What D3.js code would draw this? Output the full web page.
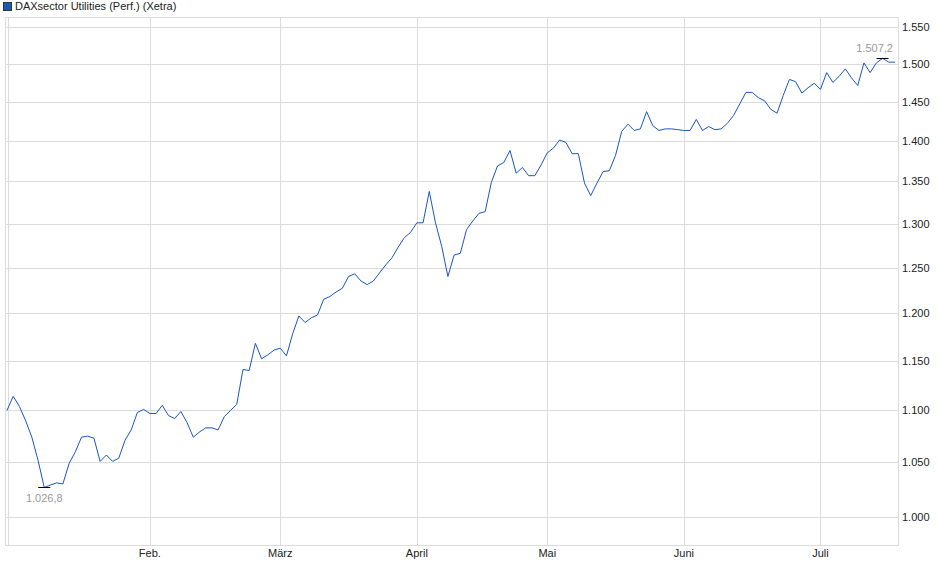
<!DOCTYPE html>
<html><head><meta charset="utf-8">
<script src="https://cdn.jsdelivr.net/npm/d3@7"></script>
<style>body{margin:0;background:#fff}svg{display:block;font-family:"Liberation Sans",Arial,sans-serif}</style>
</head><body><svg id="c" width="940" height="579"></svg>
<script>
const title = "DAXsector Utilities (Perf.) (Xetra)";
const values = [1100,1114,1104,1090,1074,1052,1026.8,1029,1031,1030,1049,1060,1074,1075,1073,1051,1057,1051,1054,
1071,1081,1098,1101,1097,1097,1105,1095,1092,1099,1088,1074,1079,1083,1083,1081,1094,1100,1106,
1141,1140,1168,1152,1156,1161,1163,1155,1178,1197,1190,1195,1198,1215,1218,1223,1227,1240,1243,
1235,1231,1235,1244,1253,1261,1273,1284,1290,1301,1301,1338,1301,1274,1240,1264,1266,1293,1303,
1312,1314,1349,1369,1373,1388,1360,1367,1357,1357,1370,1385,1391,1401,1398,1384,1384,1348,1333,1348,
1362,1363,1382,1412,1421,1413,1415,1437,1419,1413,1415,1415,1414,1413,1413,1427,1413,1418,1414,1415,1422,1432,
1447,1462,1462,1455,1451,1440,1435,1458,1479,1476,1461,1468,1474,1466,1488,1475,1483,1493,1481,1471,1501,1488,
1501,1507.2,1502,1502];
const yTicks = [1000,1050,1100,1150,1200,1250,1300,1350,1400,1450,1500,1550];
const monthLabels = ["Feb.","März","April","Mai","Juni","Juli"];
const monthStartIdx = [23,44,66,87,109,131];

const data = values.map((v,i)=>({i,v}));
const L=5,R=898,T=17,B=545;
const svg=d3.select("#c");
const x=d3.scaleLinear().domain([0,values.length-1]).range([7,895]);
const y=d3.scaleLog().domain([1000,1550]).range([517,27]);
const num=v=>d3.format(",.0f")(v).replace(/,/g,".");
svg.append("g").selectAll("line").data(yTicks).join("line").attr("x1",L).attr("x2",R).attr("y1",d=>Math.round(y(d))+0.5).attr("y2",d=>Math.round(y(d))+0.5).attr("stroke","#dcdcdc");
svg.append("g").selectAll("line").data(monthStartIdx).join("line").attr("x1",d=>Math.round(x(d))+0.5).attr("x2",d=>Math.round(x(d))+0.5).attr("y1",T).attr("y2",B).attr("stroke","#dcdcdc");
svg.append("rect").attr("x",L+0.5).attr("y",T+0.5).attr("width",R-L).attr("height",B-T).attr("fill","none").attr("stroke","#dcdcdc");
svg.append("line").attr("x1",L+3.5).attr("x2",L+3.5).attr("y1",T).attr("y2",B).attr("stroke","#dcdcdc");
svg.append("g").selectAll("text").data(yTicks).join("text").attr("x",R+4).attr("y",d=>y(d)+4).attr("font-size",11).attr("fill","#222").text(num);
svg.append("g").selectAll("text").data(monthStartIdx).join("text").attr("x",d=>x(d)).attr("y",B+12).attr("text-anchor","middle").attr("font-size",11).attr("fill","#222").text((d,i)=>monthLabels[i]);
svg.append("path").datum(data).attr("fill","none").attr("stroke","#1a56c4").attr("stroke-width",1)
  .attr("d",d3.line().x(d=>x(d.i)).y(d=>y(d.v)));
const mn=d3.least(data,d=>d.v), mx=d3.greatest(data,d=>d.v);
const f1=v=>d3.format(",.1f")(v).replace(/,/g,"#").replace(".",",").replace(/#/g,".");
[[mn,1],[mx,-1]].forEach(([p,s])=>{
  svg.append("line").attr("x1",x(p.i)-6).attr("x2",x(p.i)+6).attr("y1",Math.round(y(p.v))+0.5).attr("y2",Math.round(y(p.v))+0.5).attr("stroke","#000");
  svg.append("text").attr("x",x(p.i)+(s>0?0:-8)).attr("y",y(p.v)+(s>0?15:-6)).attr("text-anchor","middle").attr("font-size",11).attr("fill","#999").text(f1(p.v));
});
svg.append("rect").attr("x",3.5).attr("y",2.5).attr("width",8).attr("height",8).attr("fill","#1a56c4").attr("stroke","#333");
svg.append("text").attr("x",15).attr("y",10).attr("font-size",11).attr("fill","#222").text(title);
</script></body></html>
